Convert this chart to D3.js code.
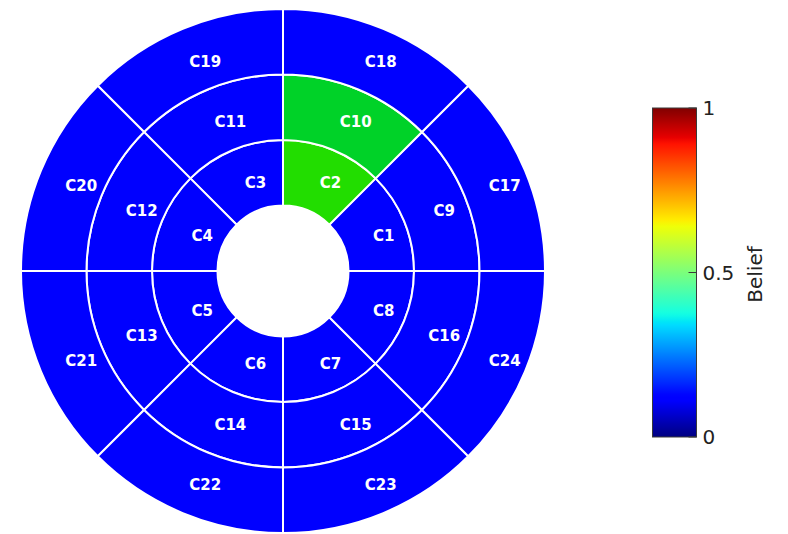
<!DOCTYPE html>
<html>
<head>
<meta charset="utf-8">
<script src="https://cdn.jsdelivr.net/npm/d3@7"></script>
<style>
  html, body { margin: 0; padding: 0; background: #ffffff; }
  svg { display: block; }
</style>
</head>
<body>
<svg id="chart" width="788" height="534"></svg>
<script>
// Cell names, ordered ring by ring (inner → outer), sector by sector.
const cellLabels = [
  "C1", "C2", "C3", "C4", "C5", "C6", "C7", "C8",
  "C9", "C10", "C11", "C12", "C13", "C14", "C15", "C16",
  "C17", "C18", "C19", "C20", "C21", "C22", "C23", "C24"
];
// Belief value for each cell.
const beliefs = [
  0.12, 0.55, 0.12, 0.12, 0.12, 0.12, 0.12, 0.12,
  0.12, 0.50, 0.12, 0.12, 0.12, 0.12, 0.12, 0.12,
  0.12, 0.12, 0.12, 0.12, 0.12, 0.12, 0.12, 0.12
];
const ringCount = 3;
const sectorCount = 8;

// Colour bar: jet colormap stops and tick values.
const jetPositions = [0, 0.11, 0.125, 0.34, 0.35, 0.375, 0.64, 0.66, 0.89, 0.91, 1];
const jetColors = ["#000080", "#0000ff", "#0000ff", "#00dbff", "#00e6f7", "#14ffe2",
                   "#efff08", "#ffec00", "#ff1300", "#e80000", "#800000"];
const colorTicks = [0, 0.5, 1];
const colorTickLabels = ["0", "0.5", "1"];
const colorBarTitle = "Belief";

// Cell fills.
const fillDomain = [0.12, 0.50, 0.55];
const fillRange = ["#0000ff", "#00d228", "#22dd00"];

const svg = d3.select("#chart");
const cx = 283, cy = 271;

const radius = d3.scaleLinear().domain([0, ringCount]).range([65.5, 262]);
const angle = d3.scaleLinear().domain([0, sectorCount]).range([Math.PI / 2, Math.PI / 2 - 2 * Math.PI]);
const cellFill = d3.scaleLinear().domain(fillDomain).range(fillRange).clamp(true);

const cells = cellLabels.map((label, i) => {
  const ring = Math.floor(i / sectorCount);
  const sector = i % sectorCount;
  return {
    label,
    value: beliefs[i],
    innerRadius: radius(ring),
    outerRadius: radius(ring + 1),
    startAngle: angle(sector + 1),
    endAngle: angle(sector)
  };
});

const arc = d3.arc();
const g = svg.append("g").attr("transform", `translate(${cx},${cy})`);

g.selectAll("path.cell")
  .data(cells)
  .join("path")
  .attr("class", "cell")
  .attr("d", arc)
  .attr("fill", d => cellFill(d.value))
  .attr("stroke", "#ffffff")
  .attr("stroke-width", 2);

// Cell names, nudged slightly right of the centroid.
g.selectAll("text.cell-label")
  .data(cells)
  .join("text")
  .attr("class", "cell-label")
  .attr("x", d => arc.centroid(d)[0] + 10)
  .attr("y", d => arc.centroid(d)[1] + 2)
  .attr("dy", "0.36em")
  .attr("text-anchor", "middle")
  .attr("fill", "#ffffff")
  .attr("font-family", "'DejaVu Sans', Verdana, sans-serif")
  .attr("font-weight", "bold")
  .attr("font-size", 15)
  .text(d => d.label);

// Colour bar
const bar = { x: 652.5, y: 108, w: 44, h: 329 };
const jet = d3.scaleLinear().domain(jetPositions).range(jetColors);
const barScale = d3.scaleLinear().domain([0, 1]).range([bar.y + bar.h, bar.y]);

const defs = svg.append("defs");
const grad = defs.append("linearGradient")
  .attr("id", "jet-grad")
  .attr("x1", 0).attr("y1", 1).attr("x2", 0).attr("y2", 0);
grad.selectAll("stop")
  .data(d3.range(0, 1.0001, 0.01))
  .join("stop")
  .attr("offset", d => d)
  .attr("stop-color", d => jet(d));

svg.append("rect")
  .attr("x", bar.x).attr("y", bar.y)
  .attr("width", bar.w).attr("height", bar.h)
  .attr("fill", "url(#jet-grad)")
  .attr("stroke", "#3a3a3a")
  .attr("stroke-width", 1);

const cb = svg.append("g");
cb.selectAll("line.tick")
  .data(colorTicks)
  .join("line")
  .attr("class", "tick")
  .attr("x1", bar.x + bar.w - 8).attr("x2", bar.x + bar.w)
  .attr("y1", d => barScale(d)).attr("y2", d => barScale(d))
  .attr("stroke", "#3a3a3a")
  .attr("stroke-width", 1);

cb.selectAll("text.tick-label")
  .data(colorTicks)
  .join("text")
  .attr("class", "tick-label")
  .attr("x", bar.x + bar.w + 6)
  .attr("y", d => barScale(d))
  .attr("dy", "0.36em")
  .attr("fill", "#222222")
  .attr("font-family", "'DejaVu Sans', Verdana, sans-serif")
  .attr("font-size", 20)
  .text((d, i) => colorTickLabels[i]);

svg.append("text")
  .attr("transform", `translate(762,${barScale(0.5) + 2}) rotate(-90)`)
  .attr("text-anchor", "middle")
  .attr("fill", "#222222")
  .attr("font-family", "'DejaVu Sans', Verdana, sans-serif")
  .attr("font-size", 20)
  .text(colorBarTitle);
</script>
</body>
</html>
